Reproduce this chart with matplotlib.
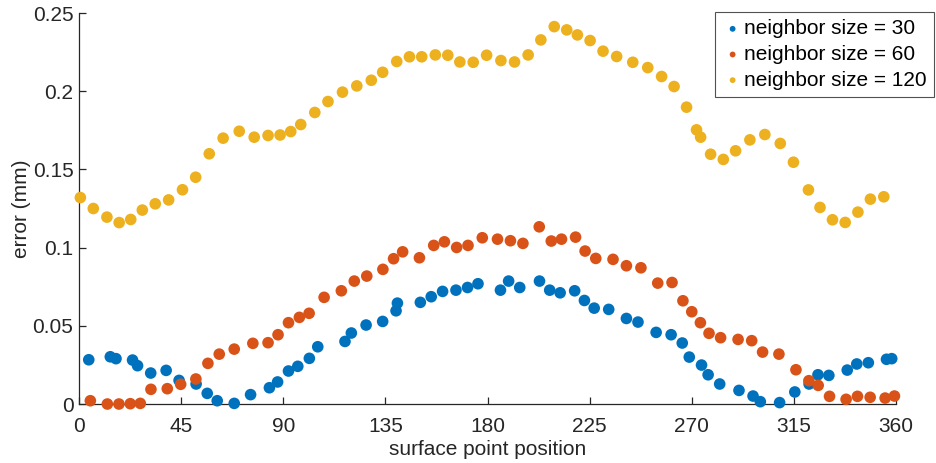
import matplotlib
matplotlib.use("Agg")
import matplotlib.pyplot as plt

# neighbor size = 30
x30 = [4.3, 13.8, 16.3, 23.6, 25.8, 31.6, 38.4, 44.1, 51.6, 56.5, 60.9, 68.4, 75.6, 83.9, 87.5,
       92.3, 96.4, 101.5, 105.2, 117.2, 120.0, 126.5, 133.8, 139.7, 140.3, 150.4, 155.2, 160.2,
       166.1, 171.2, 175.8, 185.7, 189.3, 194.2, 202.9, 207.4, 212.0, 218.4, 222.7, 227.0, 233.4,
       241.2, 246.3, 254.3, 260.9, 265.8, 268.9, 274.3, 277.2, 282.3, 290.8, 297.0, 300.2, 308.7,
       315.4, 321.7, 325.6, 330.4, 338.5, 342.7, 347.8, 355.8, 358.1]
y30 = [0.0283, 0.0302, 0.0290, 0.0281, 0.0245, 0.0198, 0.0215, 0.0151, 0.0128, 0.0068, 0.0021,
       0.0004, 0.0060, 0.0104, 0.0141, 0.0211, 0.0241, 0.0292, 0.0366, 0.0400, 0.0454, 0.0505,
       0.0528, 0.0596, 0.0645, 0.0650, 0.0686, 0.0720, 0.0728, 0.0745, 0.0769, 0.0728, 0.0786,
       0.0745, 0.0786, 0.0728, 0.0711, 0.0724, 0.0662, 0.0613, 0.0605, 0.0547, 0.0524, 0.0458,
       0.0443, 0.0390, 0.0300, 0.0249, 0.0187, 0.0128, 0.0087, 0.0051, 0.0015, 0.0009, 0.0077,
       0.0128, 0.0187, 0.0183, 0.0217, 0.0256, 0.0264, 0.0286, 0.0290]

# neighbor size = 60
x60 = [5.0, 12.5, 17.6, 22.6, 27.0, 31.7, 38.9, 44.8, 51.5, 56.8, 61.8, 68.4, 76.6, 83.3, 87.7,
       92.3, 97.1, 101.4, 108.0, 115.6, 121.3, 126.8, 133.9, 138.6, 142.6, 150.0, 156.3, 161.0,
       166.4, 171.4, 177.7, 184.4, 190.1, 195.6, 202.8, 208.1, 212.6, 218.8, 223.0, 227.7, 235.3,
       241.2, 247.6, 255.0, 261.3, 266.1, 270.0, 273.8, 277.6, 282.7, 290.4, 296.4, 301.2, 308.4,
       315.9, 321.6, 325.7, 330.7, 338.0, 343.0, 348.6, 355.2, 359.3]
y60 = [0.0021, 0.0000, 0.0000, 0.0002, 0.0004, 0.0094, 0.0098, 0.0126, 0.0160, 0.0260, 0.0319,
       0.0351, 0.0388, 0.0392, 0.0443, 0.0520, 0.0554, 0.0580, 0.0682, 0.0724, 0.0786, 0.0818,
       0.0861, 0.0929, 0.0973, 0.0935, 0.1014, 0.1037, 0.1001, 0.1014, 0.1063, 0.1054, 0.1044,
       0.1027, 0.1133, 0.1042, 0.1054, 0.1067, 0.0978, 0.0931, 0.0925, 0.0884, 0.0871, 0.0773,
       0.0777, 0.0660, 0.0590, 0.0520, 0.0452, 0.0424, 0.0413, 0.0405, 0.0332, 0.0319, 0.0219,
       0.0149, 0.0119, 0.0049, 0.0030, 0.0049, 0.0043, 0.0038, 0.0051]

# neighbor size = 120
x120 = [0.6, 6.3, 12.3, 17.7, 22.8, 27.9, 33.6, 39.5, 45.6, 51.4, 57.4, 63.5, 70.6, 77.2, 83.3,
        88.6, 93.3, 97.7, 103.9, 109.7, 116.1, 122.4, 128.8, 133.8, 140.0, 145.6, 151.0, 157.0,
        162.5, 167.8, 173.7, 179.6, 185.9, 191.9, 197.9, 203.5, 209.4, 214.9, 219.6, 225.2, 230.9,
        236.9, 244.0, 250.6, 256.7, 262.2, 267.7, 272.1, 273.9, 278.3, 283.9, 289.3, 295.6, 302.2,
        309.0, 314.8, 321.4, 326.5, 332.0, 337.6, 343.2, 348.7, 354.6]
y120 = [0.132, 0.125, 0.1195, 0.116, 0.118, 0.124, 0.128, 0.1305, 0.137, 0.145, 0.160, 0.170,
        0.1744, 0.1706, 0.1717, 0.172, 0.1742, 0.1787, 0.1864, 0.1934, 0.1994, 0.2034, 0.207,
        0.2121, 0.219, 0.222, 0.222, 0.2232, 0.223, 0.2187, 0.2185, 0.223, 0.2196, 0.2187, 0.2232,
        0.2328, 0.2413, 0.2392, 0.236, 0.2324, 0.2256, 0.2222, 0.2185, 0.2151, 0.2094, 0.203,
        0.1898, 0.1753, 0.1706, 0.1597, 0.1564, 0.1619, 0.1689, 0.1723, 0.1666, 0.1546, 0.1369,
        0.1257, 0.1178, 0.1161, 0.1227, 0.131, 0.1325]

labels = ["neighbor size = 30", "neighbor size = 60", "neighbor size = 120"]
colors = ["#0072BD", "#D95319", "#EDB120"]
xticks = [0, 45, 90, 135, 180, 225, 270, 315, 360]
yticks = [0, 0.05, 0.1, 0.15, 0.2, 0.25]
ytick_labels = ["0", "0.05", "0.1", "0.15", "0.2", "0.25"]

plt.rcParams["font.family"] = ["Liberation Sans", "DejaVu Sans"]
axis_gray = "#262626"

fig = plt.figure(figsize=(9.36, 4.63), dpi=100)
ax = fig.add_axes([0.0844, 0.1274, 0.8729, 0.8445])

for xs, ys, lab, col in zip([x30, x60, x120], [y30, y60, y120], labels, colors):
    ax.scatter(xs, ys, s=70, color=col, edgecolors="none", label=lab, clip_on=False, zorder=3)

ax.set_xlim(0, 360)
ax.set_ylim(0, 0.25)
ax.set_xticks(xticks)
ax.set_yticks(yticks)
ax.set_yticklabels(ytick_labels)
ax.spines["top"].set_visible(False)
ax.spines["right"].set_visible(False)
for side in ["left", "bottom"]:
    ax.spines[side].set_color(axis_gray)
    ax.spines[side].set_linewidth(0.9)
ax.tick_params(direction="in", length=5, width=0.9, colors=axis_gray, labelsize=15)
ax.tick_params(axis="x", pad=9)
ax.tick_params(axis="y", pad=4)
ax.set_xlabel("surface point position", fontsize=15, color=axis_gray, labelpad=3)
ax.set_ylabel("error (mm)", fontsize=15, color=axis_gray, labelpad=1)

# legend sits above the top-right corner, sticking out past the axes
leg = ax.legend(loc="upper right", bbox_to_anchor=(934 / 936, 1 - 12 / 463),
                bbox_transform=fig.transFigure, fontsize=15, frameon=True, fancybox=False,
                markerscale=0.5, handletextpad=0.05, borderpad=0.35, labelspacing=0.32,
                borderaxespad=0, handlelength=1.0)
leg.get_frame().set_edgecolor(axis_gray)
leg.get_frame().set_linewidth(0.8)

fig.savefig("out.png", dpi=100)
